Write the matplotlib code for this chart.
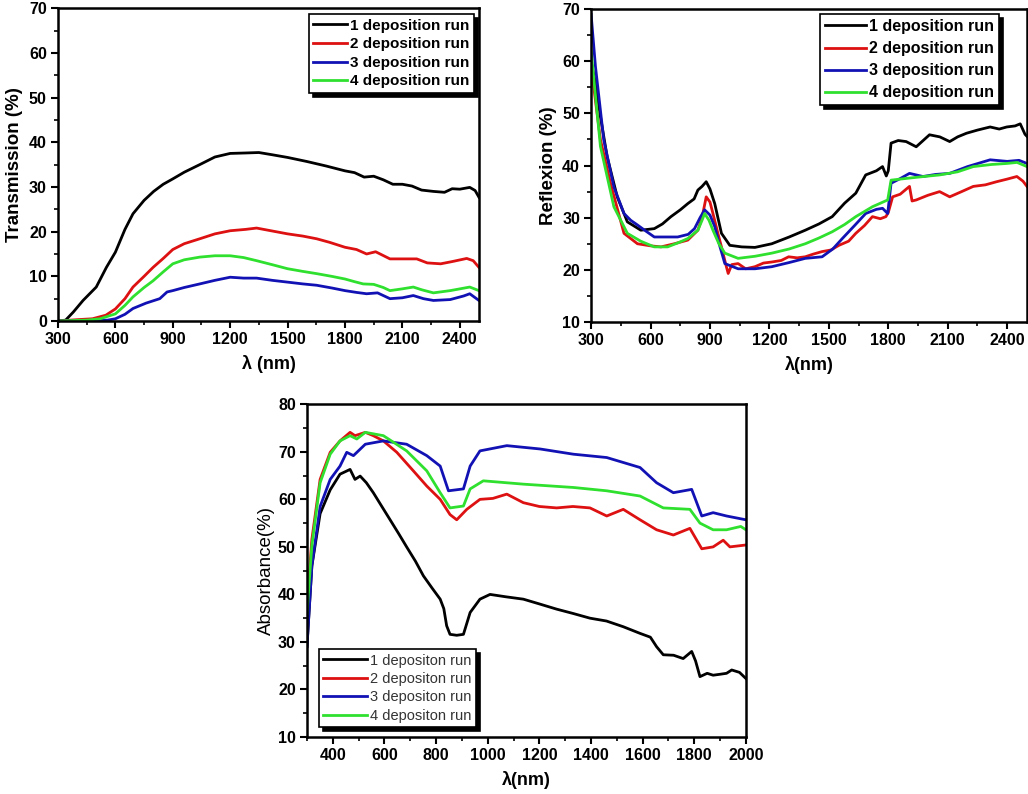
# Optical spectra of deposited films: transmission, reflexion, absorbance
import matplotlib
matplotlib.use('Agg')
import matplotlib.pyplot as plt
from matplotlib.ticker import MultipleLocator

plt.rcParams['font.family'] = ['Liberation Sans', 'DejaVu Sans']

LABELS_TOP = ['1 deposition run', '2 deposition run', '3 deposition run', '4 deposition run']
LABELS_BOTTOM = ['1 depositon run', '2 depositon run', '3 depositon run', '4 depositon run']
COLORS = ['black', '#dd1111', '#1212b4', '#2fe02f']

# Transmission (%) vs wavelength (nm)
t_x1 = [300, 340, 380, 431, 500, 553, 600, 650, 692, 750, 800, 850, 900, 960, 1041, 1120, 1200, 1280,
        1350, 1420, 1500, 1600, 1700, 1800, 1850, 1900, 1950, 2000, 2050, 2100, 2150, 2200, 2262, 2320,
        2360, 2400, 2452, 2480, 2500]
t_y1 = [0, 0.2, 2, 4.6, 7.6, 12, 15.4, 20.5, 24, 27, 29, 30.6, 31.8, 33.3, 35, 36.7, 37.5, 37.6,
        37.7, 37.2, 36.6, 35.7, 34.7, 33.6, 33.2, 32.2, 32.4, 31.6, 30.6, 30.6, 30.2, 29.3, 29.0, 28.8,
        29.6, 29.5, 29.9, 29.2, 27.7]
t_x2 = [300, 400, 480, 550, 600, 650, 692, 750, 797, 850, 900, 960, 1041, 1120, 1200, 1280, 1338, 1400,
        1500, 1580, 1652, 1720, 1800, 1860, 1913, 1960, 2035, 2100, 2175, 2230, 2300, 2360, 2436, 2470, 2500]
t_y2 = [0, 0.3, 0.5, 1.3, 2.7, 5, 7.6, 10, 12, 14, 16, 17.3, 18.4, 19.5, 20.2, 20.5, 20.8, 20.3,
        19.5, 19, 18.4, 17.6, 16.5, 16, 15, 15.5, 13.9, 13.9, 13.9, 13, 12.8, 13.3, 14, 13.5, 12]
t_x3 = [300, 500, 560, 600, 650, 692, 760, 832, 870, 900, 960, 1041, 1120, 1200, 1270, 1338, 1420, 1500,
        1580, 1652, 1730, 1800, 1860, 1913, 1970, 2035, 2100, 2157, 2210, 2262, 2350, 2420, 2452, 2500]
t_y3 = [0, 0.1, 0.2, 0.5, 1.5, 2.8, 4, 5, 6.5, 6.8, 7.5, 8.3, 9.1, 9.8, 9.6, 9.6, 9.1, 8.7,
        8.3, 8, 7.4, 6.8, 6.4, 6.1, 6.3, 5, 5.2, 5.7, 5, 4.6, 4.8, 5.6, 6.1, 4.6]
t_x4 = [300, 450, 520, 600, 650, 692, 750, 797, 850, 900, 960, 1041, 1120, 1200, 1270, 1338, 1420, 1500,
        1580, 1652, 1730, 1800, 1850, 1895, 1950, 2000, 2035, 2100, 2157, 2200, 2262, 2350, 2452, 2500]
t_y4 = [0, 0.2, 0.5, 1.6, 3.5, 5.4, 7.5, 9, 11, 12.8, 13.7, 14.3, 14.6, 14.6, 14.2, 13.5, 12.6, 11.7,
        11.1, 10.6, 10, 9.4, 8.8, 8.3, 8.2, 7.5, 6.8, 7.2, 7.6, 7, 6.3, 6.8, 7.6, 6.8]

# Reflexion (%) vs wavelength (nm)
r_x1 = [300, 322, 347, 381, 432, 483, 551, 619, 660, 703, 750, 788, 820, 839, 860, 881, 900, 924, 940,
        958, 1000, 1060, 1127, 1212, 1300, 1381, 1450, 1517, 1580, 1636, 1686, 1740, 1771, 1790, 1800,
        1814, 1850, 1890, 1941, 2008, 2060, 2110, 2150, 2195, 2250, 2314, 2360, 2398, 2440, 2466, 2490, 2500]
r_y1 = [60, 55.8, 49.4, 41.7, 34, 29.2, 27.6, 27.9, 28.8, 30.2, 31.5, 32.7, 33.6, 35.3, 36, 36.9, 35.5,
        32.7, 30, 27, 24.7, 24.4, 24.3, 25, 26.3, 27.6, 28.8, 30.2, 32.8, 34.7, 38.2, 39, 39.8, 38, 39,
        44.3, 44.8, 44.6, 43.6, 45.9, 45.5, 44.6, 45.5, 46.2, 46.8, 47.4, 47, 47.4, 47.6, 48, 46, 45.6]
r_x2 = [300, 347, 398, 466, 534, 600, 653, 720, 788, 839, 860, 881, 900, 915, 940, 958, 980, 992, 1010,
        1042, 1080, 1127, 1170, 1212, 1260, 1297, 1340, 1381, 1420, 1466, 1510, 1551, 1600, 1636, 1680,
        1720, 1760, 1788, 1800, 1822, 1860, 1907, 1920, 1941, 2000, 2059, 2110, 2170, 2229, 2290, 2347,
        2400, 2449, 2480, 2500]
r_y2 = [59, 45, 36.6, 27, 25, 24.6, 24.4, 25, 25.7, 27.6, 30, 34, 33, 30.8, 27, 24.4, 21, 19.3, 21,
        21.2, 20.2, 20.6, 21.3, 21.5, 21.8, 22.5, 22.3, 22.5, 23, 23.5, 23.8, 24.7, 25.5, 27, 28.5,
        30.2, 29.8, 30.2, 31, 34, 34.5, 36, 33.2, 33.4, 34.3, 35, 34, 35, 36, 36.3, 36.9,
        37.4, 37.9, 37, 36]
r_x3 = [300, 322, 364, 415, 466, 500, 534, 570, 619, 680, 737, 790, 822, 850, 873, 900, 924, 950, 975,
        1042, 1127, 1212, 1300, 1381, 1466, 1520, 1568, 1630, 1686, 1740, 1771, 1797, 1814, 1860, 1907,
        1975, 2040, 2110, 2200, 2314, 2400, 2460, 2500]
r_y3 = [69, 59, 44.9, 35.9, 30.8, 29.5, 28.6, 27.6, 26.3, 26.3, 26.3, 26.8, 27.9, 30, 31.5, 30.5, 28.3,
        24.5, 21.2, 20.2, 20.2, 20.6, 21.4, 22.2, 22.5, 24, 26, 28.5, 30.8, 31.6, 31.8, 30.8, 36.6, 37.5,
        38.5, 37.9, 38.3, 38.5, 39.8, 41.1, 40.8, 41, 40.4]
r_x4 = [300, 347, 415, 483, 550, 619, 686, 740, 788, 839, 860, 873, 895, 915, 945, 975, 1042, 1127, 1212,
        1300, 1381, 1450, 1517, 1580, 1636, 1720, 1797, 1814, 1907, 1980, 2059, 2150, 2229, 2320, 2398,
        2450, 2500]
r_y4 = [62, 43.7, 32.1, 27, 25.5, 24.4, 24.4, 25.2, 26, 27.6, 29.5, 30.8, 29.5, 27.6, 25, 23.2, 22.2,
        22.6, 23.2, 24, 25, 26.1, 27.3, 28.7, 30.2, 32.1, 33.4, 37.2, 37.6, 37.9, 38.2, 38.8, 39.8, 40.2,
        40.4, 40.6, 39.8]

# Absorbance (%) vs wavelength (nm)
a_x1 = [300, 319, 351, 390, 428, 467, 486, 506, 530, 557, 590, 622, 655, 686, 720, 751, 785, 816, 830,
        841, 854, 880, 906, 932, 970, 1009, 1070, 1138, 1200, 1267, 1330, 1396, 1460, 1525, 1590, 1630,
        1654, 1680, 1720, 1757, 1790, 1805, 1822, 1850, 1873, 1900, 1925, 1945, 1975, 2000]
a_y1 = [29, 46, 57, 62, 65.3, 66.3, 64.2, 64.9, 63.5, 61.4, 58.5, 55.7, 52.8, 50, 47, 43.9, 41.3, 39, 37,
        33.4, 31.6, 31.4, 31.6, 36.2, 39, 40, 39.5, 39, 38, 36.9, 36, 35, 34.4, 33.2, 31.8, 31,
        29, 27.3, 27.2, 26.5, 28, 26, 22.7, 23.4, 23, 23.2, 23.4, 24.1, 23.6, 22.3]
a_x2 = [300, 319, 351, 390, 428, 467, 486, 526, 557, 596, 648, 712, 764, 816, 854, 880, 919, 970, 1020,
        1074, 1138, 1200, 1267, 1330, 1396, 1461, 1525, 1590, 1654, 1719, 1783, 1829, 1873, 1912, 1938, 2000]
a_y2 = [37.5, 51.6, 64.2, 69.9, 72.3, 74.1, 73.4, 74.1, 73.4, 72.3, 69.9, 66, 62.8, 60, 56.8, 55.7, 57.9,
        60, 60.2, 61.1, 59.3, 58.5, 58.2, 58.5, 58.2, 56.5, 57.9, 55.7, 53.6, 52.5, 53.9, 49.6, 50, 51.4,
        50, 50.4]
a_x3 = [300, 319, 351, 390, 428, 454, 480, 526, 596, 686, 764, 816, 848, 906, 932, 970, 1074, 1203, 1332,
        1461, 1590, 1654, 1719, 1790, 1829, 1873, 1925, 2000]
a_y3 = [29, 46, 58.5, 64.2, 67, 69.9, 69.2, 71.6, 72.3, 71.6, 69.2, 67, 61.8, 62.2, 67, 70.2, 71.3, 70.6,
        69.5, 68.8, 66.7, 63.5, 61.4, 62.1, 56.5, 57.2, 56.5, 55.7]
a_x4 = [300, 319, 351, 390, 428, 467, 493, 526, 596, 686, 764, 816, 854, 906, 932, 983, 1138, 1332, 1461,
        1590, 1680, 1783, 1822, 1873, 1925, 1980, 2000]
a_y4 = [36, 50.3, 63.5, 69.5, 72.3, 73.4, 72.7, 74.1, 73.4, 70.2, 66, 61.4, 58.2, 58.6, 62.2, 63.9, 63.2,
        62.5, 61.8, 60.7, 58.2, 57.9, 55, 53.6, 53.6, 54.3, 53.6]


def style_axes(ax, xlim, ylim, xmajor, xminor, ymajor, yminor):
    """Origin-like frame: thick border, outward ticks on bottom/left"""
    ax.set_xlim(*xlim)
    ax.set_ylim(*ylim)
    ax.xaxis.set_major_locator(MultipleLocator(xmajor))
    ax.xaxis.set_minor_locator(MultipleLocator(xminor))
    ax.yaxis.set_major_locator(MultipleLocator(ymajor))
    ax.yaxis.set_minor_locator(MultipleLocator(yminor))
    for s in ax.spines.values():
        s.set_linewidth(1.8)
    ax.tick_params(which='major', direction='out', length=5, width=1.5, labelsize=11.5, pad=3)
    ax.tick_params(which='minor', direction='out', length=3, width=1.2)
    for lab in ax.get_xticklabels() + ax.get_yticklabels():
        lab.set_fontweight('bold')


def add_legend(ax, labels, **kw):
    leg = ax.legend(labels, frameon=True, fancybox=False, edgecolor='black',
                    shadow={'color': 'black', 'alpha': 1, 'ox': 3, 'oy': -3},
                    borderpad=0.3, borderaxespad=0, handletextpad=0.2, **kw)
    leg.get_frame().set_linewidth(1.2)
    return leg


fig = plt.figure(figsize=(10.28, 7.94), dpi=100)

# Transmission
ax1 = fig.add_axes([0.0564, 0.5957, 0.4095, 0.394])
for x, y, c in zip([t_x1, t_x2, t_x3, t_x4], [t_y1, t_y2, t_y3, t_y4], COLORS):
    ax1.plot(x, y, color=c, lw=2)
style_axes(ax1, (300, 2500), (0, 70), 300, 150, 10, 5)
ax1.set_ylabel('Transmission (%)', fontsize=13.5, fontweight='bold', labelpad=4)
ax1.set_xlabel('λ (nm)', fontsize=13, fontweight='bold', labelpad=6)
add_legend(ax1, LABELS_TOP, loc='upper right', bbox_to_anchor=(0.988, 0.981),
           prop={'weight': 'bold', 'size': 11}, handlelength=2.2, labelspacing=0.3)

# Reflexion
ax2 = fig.add_axes([0.575, 0.5945, 0.424, 0.394])
for x, y, c in zip([r_x1, r_x2, r_x3, r_x4], [r_y1, r_y2, r_y3, r_y4], COLORS):
    ax2.plot(x, y, color=c, lw=2)
style_axes(ax2, (300, 2500), (10, 70), 300, 150, 10, 5)
ax2.set_ylabel('Reflexion (%)', fontsize=13.5, fontweight='bold', labelpad=4)
ax2.set_xlabel('λ(nm)', fontsize=13, fontweight='bold', labelpad=6)
add_legend(ax2, LABELS_TOP, loc='upper right', bbox_to_anchor=(0.936, 0.984),
           prop={'weight': 'bold', 'size': 11.5}, handlelength=2.6, labelspacing=0.45)

# Absorbance
ax3 = fig.add_axes([0.2986, 0.0718, 0.427, 0.419])
for x, y, c in zip([a_x1, a_x2, a_x3, a_x4], [a_y1, a_y2, a_y3, a_y4], COLORS):
    ax3.plot(x, y, color=c, lw=2)
style_axes(ax3, (300, 2000), (10, 80), 200, 100, 10, 5)
ax3.set_ylabel('Absorbance(%)', fontsize=13.5, labelpad=2)
ax3.set_xlabel('λ(nm)', fontsize=13, fontweight='bold', labelpad=6)
leg3 = add_legend(ax3, LABELS_BOTTOM, loc='lower left', bbox_to_anchor=(0.027, 0.03),
                  prop={'size': 10.5}, handlelength=3.0, labelspacing=0.3)
for t in leg3.get_texts():
    t.set_color('#333333')

fig.savefig('out.png', dpi=100)
